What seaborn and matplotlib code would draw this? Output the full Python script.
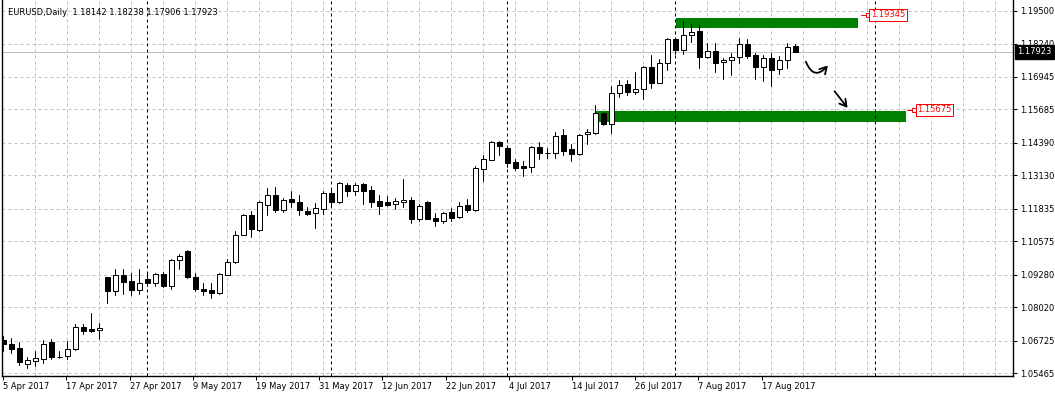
import numpy as np
import pandas as pd
import matplotlib
matplotlib.use("Agg")
import matplotlib.pyplot as plt
import seaborn as sns
from matplotlib.patches import Rectangle, FancyArrowPatch
from matplotlib.transforms import blended_transform_factory

# ---------------- data (EURUSD daily, 5 Apr 2017 - 22 Aug 2017) ----------------
opens = [1.06772, 1.06617, 1.06435, 1.05826, 1.05942, 1.06035, 1.06667, 1.06110, 1.06151, 1.06407,
         1.07276, 1.07171, 1.07160, 1.09187, 1.08672, 1.09265, 1.09032, 1.08710, 1.09110, 1.08982,
         1.09303, 1.08865, 1.09835, 1.10184, 1.09214, 1.08749, 1.08683, 1.08578, 1.09292, 1.09757,
         1.10827, 1.11579, 1.11021, 1.11967, 1.12355, 1.11796, 1.12200, 1.12083, 1.11746, 1.11657,
         1.11835, 1.12432, 1.12107, 1.12742, 1.12533, 1.12793, 1.12549, 1.12122, 1.12095, 1.12006,
         1.12083, 1.12161, 1.11447, 1.12095, 1.11475, 1.11347, 1.11707, 1.11502, 1.11967, 1.11785,
         1.13363, 1.13740, 1.14421, 1.14189, 1.13646, 1.13479, 1.13464, 1.14216, 1.14010, 1.13983,
         1.14693, 1.14138, 1.13968, 1.14720, 1.14758, 1.15534, 1.15131, 1.16309, 1.16658, 1.16371,
         1.16464, 1.17317, 1.16720, 1.17472, 1.18403, 1.17999, 1.18558, 1.18725, 1.17728, 1.17938,
         1.17511, 1.17589, 1.17728, 1.18209, 1.17783, 1.17317, 1.17678, 1.17240, 1.17589, 1.18142]
highs = [1.06900, 1.06849, 1.06667, 1.06086, 1.06318, 1.06745, 1.06783, 1.06318, 1.06718, 1.07365,
         1.07365, 1.07791, 1.07404, 1.09200, 1.09497, 1.09497, 1.09354, 1.09497, 1.09369, 1.09354,
         1.09381, 1.09885, 1.10067, 1.10222, 1.09342, 1.08982, 1.08955, 1.09331, 1.09885, 1.10971,
         1.11630, 1.11746, 1.12134, 1.12626, 1.12665, 1.12250, 1.12521, 1.12355, 1.11901, 1.12045,
         1.12521, 1.12649, 1.12870, 1.12832, 1.12832, 1.12843, 1.12704, 1.12355, 1.12339, 1.12250,
         1.12987, 1.12289, 1.12017, 1.12122, 1.11657, 1.11707, 1.11851, 1.12107, 1.12200, 1.13491,
         1.13917, 1.14460, 1.14460, 1.14239, 1.13774, 1.13685, 1.14266, 1.14421, 1.14200, 1.14809,
         1.14937, 1.14344, 1.14720, 1.14914, 1.15856, 1.15573, 1.16604, 1.16825, 1.16813, 1.17147,
         1.17356, 1.17783, 1.17651, 1.18442, 1.18442, 1.19112, 1.18984, 1.18957, 1.18248, 1.18248,
         1.17666, 1.17860, 1.18465, 1.18403, 1.17860, 1.17783, 1.17883, 1.17744, 1.18271, 1.18238]
lows = [1.06330, 1.06252, 1.05787, 1.05671, 1.05748, 1.05880, 1.06035, 1.06058, 1.06035, 1.06369,
        1.06989, 1.07066, 1.06783, 1.08191, 1.08501, 1.08540, 1.08517, 1.08555, 1.08865, 1.08850,
        1.08811, 1.08734, 1.09486, 1.09148, 1.08644, 1.08489, 1.08385, 1.08528, 1.09265, 1.09740,
        1.10804, 1.10750, 1.10959, 1.11603, 1.11719, 1.11696, 1.11890, 1.11603, 1.11603, 1.11099,
        1.11630, 1.11940, 1.12045, 1.12339, 1.12378, 1.12029, 1.11913, 1.11641, 1.11928, 1.11835,
        1.11901, 1.11292, 1.11370, 1.11424, 1.11176, 1.11269, 1.11370, 1.11475, 1.11719, 1.11746,
        1.12921, 1.13720, 1.13905, 1.13464, 1.13324, 1.13115, 1.13270, 1.13774, 1.13813, 1.13813,
        1.13905, 1.13696, 1.13917, 1.14355, 1.14720, 1.15080, 1.14770, 1.16177, 1.16232, 1.16294,
        1.16100, 1.16503, 1.16697, 1.17224, 1.17833, 1.17833, 1.18298, 1.17278, 1.17678, 1.17147,
        1.16875, 1.17019, 1.17496, 1.17666, 1.16875, 1.16798, 1.16592, 1.17057, 1.17302, 1.17906]
closes = [1.06601, 1.06407, 1.05903, 1.05969, 1.06058, 1.06617, 1.06086, 1.06095, 1.06423, 1.07276,
          1.07105, 1.07105, 1.07237, 1.08656, 1.09265, 1.09005, 1.08695, 1.08955, 1.08966, 1.09303,
          1.08850, 1.09835, 1.10001, 1.09214, 1.08734, 1.08656, 1.08578, 1.09303, 1.09757, 1.10804,
          1.11579, 1.11037, 1.12083, 1.12355, 1.11796, 1.12184, 1.12083, 1.11796, 1.11641, 1.11851,
          1.12432, 1.12107, 1.12832, 1.12533, 1.12742, 1.12533, 1.12107, 1.11951, 1.11990, 1.12122,
          1.12172, 1.11447, 1.11928, 1.11447, 1.11347, 1.11657, 1.11486, 1.11928, 1.11796, 1.13401,
          1.13750, 1.14421, 1.14254, 1.13619, 1.13425, 1.13425, 1.14216, 1.14006, 1.14000, 1.14642,
          1.14084, 1.13968, 1.14693, 1.14797, 1.15534, 1.15131, 1.16309, 1.16619, 1.16371, 1.16464,
          1.17317, 1.16720, 1.17472, 1.18403, 1.17999, 1.18558, 1.18674, 1.17728, 1.17938, 1.17496,
          1.17589, 1.17705, 1.18209, 1.17767, 1.17341, 1.17666, 1.17224, 1.17589, 1.18116, 1.17923]

date_labels = ["5 Apr 2017", "17 Apr 2017", "27 Apr 2017", "9 May 2017", "19 May 2017",
               "31 May 2017", "12 Jun 2017", "22 Jun 2017", "4 Jul 2017", "14 Jul 2017",
               "26 Jul 2017", "7 Aug 2017", "17 Aug 2017"]
price_ticks = [1.19500, 1.18240, 1.16945, 1.15685, 1.14390, 1.13130, 1.11835,
               1.10575, 1.09280, 1.08020, 1.06725, 1.05465]
month_separators = [18, 41, 63, 84, 109]        # bar index of period separators
title_text = "EURUSD,Daily  1.18142 1.18238 1.17906 1.17923"
bid_price = 1.17923

# drawn objects (bar units / prices)
upper_zone = (84.05, 106.9, 1.18853, 1.19229)
lower_zone = (73.96, 112.9, 1.15197, 1.15640)
upper_label = (107.2, 1.19345, "1.19345")
lower_label = (113.0, 1.15675, "1.15675")
curved_arrow = [(100.2, 1.17639), (103.3, 1.17472)]
straight_arrow = [(103.7, 1.16476), (105.75, 1.15662)]

# ---------------- figure ----------------
sns.set_theme(style="white")
plt.rcParams['font.family'] = ['DejaVu Sans']
W, H = 1055, 397
PX = 0.72  # one pixel in points at 100 dpi
fig = plt.figure(figsize=(W / 100, H / 100), dpi=100)
ax = fig.add_axes([2.3 / W, 1 - 376 / H, (1012.7 - 2.3) / W, 376 / H])
ax.set_facecolor("white")

n = len(opens)
idx = np.arange(n)
df = pd.DataFrame({"bar": idx, "open": opens, "high": highs, "low": lows, "close": closes})

# wicks with seaborn (one unit per bar)
wicks = pd.DataFrame({
    "bar": np.repeat(idx, 2),
    "price": np.column_stack([df["low"], df["high"]]).ravel(),
    "unit": np.repeat(idx, 2),
})
sns.lineplot(data=wicks, x="bar", y="price", units="unit", estimator=None,
             color="black", lw=PX, sort=False, legend=False, ax=ax, zorder=3)

# bodies
bottom = np.minimum(df["open"], df["close"])
height = np.maximum(np.abs(df["close"] - df["open"]), 0.00002)
face = np.where(df["close"] >= df["open"], "white", "black")
ax.bar(df["bar"], height, bottom=bottom, width=0.56, color=face,
       edgecolor="black", linewidth=PX, zorder=4)

# grid
for yv in price_ticks:
    ax.axhline(yv, color="#c0c0c0", lw=PX, ls=(0, (3, 3)), zorder=0.6)
for xv in range(4, 127, 4):
    ax.axvline(xv, color="#c0c0c0", lw=PX, ls=(0, (3, 3)), zorder=0.6)

# zones
for x0, x1, y0, y1 in (upper_zone, lower_zone):
    ax.add_patch(Rectangle((x0, y0), x1 - x0, y1 - y0, facecolor="#008000",
                           edgecolor="none", zorder=1))

# period separators
for m in month_separators:
    ax.axvline(m, color="black", lw=PX, ls=(0, (3, 3)), zorder=1.5)

# bid line
ax.axhline(bid_price, color="#c0c0c0", lw=PX, zorder=1.4)

# price labels
for (lx, ly, txt) in (upper_label, lower_label):
    ax.plot([lx, lx + 0.75], [ly, ly], color="red", lw=PX, zorder=5)
    ax.plot([lx + 0.9], [ly], marker="s", ms=3, mfc="white", mec="red", mew=PX, zorder=6)
    ax.text(lx + 1.25, ly, txt, color="red", fontsize=6, ha="left", va="center", zorder=6,
            bbox=dict(boxstyle="square,pad=0.2", facecolor="white", edgecolor="red", lw=PX))

# hand drawn arrows
ax.add_patch(FancyArrowPatch(curved_arrow[0], curved_arrow[1],
                             connectionstyle="arc3,rad=0.9",
                             arrowstyle="->,head_length=0.6,head_width=0.35",
                             mutation_scale=8, lw=1.3, color="black", zorder=6))
ax.add_patch(FancyArrowPatch(straight_arrow[0], straight_arrow[1],
                             arrowstyle="->,head_length=0.6,head_width=0.35",
                             mutation_scale=8, lw=1.3, color="black", zorder=6))

# axes limits / ticks
ax.set_xlim(-0.125, 126.18)
ax.set_ylim(1.0536, 1.19926)
ax.set_xticks(np.arange(len(date_labels)) * 7.9)
ax.set_xticklabels(date_labels, ha="left")
ax.set_yticks(price_ticks)
ax.set_yticklabels([f"{v:.5f}" for v in price_ticks])
ax.yaxis.tick_right()
ax.tick_params(axis="x", direction="out", length=3, width=PX, pad=1.5,
               labelsize=6, colors="black", bottom=True)
ax.tick_params(axis="y", direction="out", length=3, width=PX, pad=2,
               labelsize=6, colors="black", right=True, left=False)
ax.set_xlabel("")
ax.set_ylabel("")
ax.grid(False)
for s in ("left", "right", "bottom"):
    ax.spines[s].set_color("black")
    ax.spines[s].set_linewidth(1.0)
ax.spines["top"].set_visible(False)

# title
ax.text(0.0056, 0.968, title_text, transform=ax.transAxes, fontsize=6,
        ha="left", va="center", color="black", zorder=7)

# current price box
tr = blended_transform_factory(ax.transAxes, ax.transData)
ax.text(1.0 + 4.5 / 1010, bid_price, f"{bid_price:.5f}", transform=tr, color="white",
        fontsize=6, ha="left", va="center", clip_on=False, zorder=8,
        bbox=dict(boxstyle="square,pad=0.3", facecolor="black", edgecolor="black"))

fig.savefig("out.png", dpi=100, facecolor="white")
